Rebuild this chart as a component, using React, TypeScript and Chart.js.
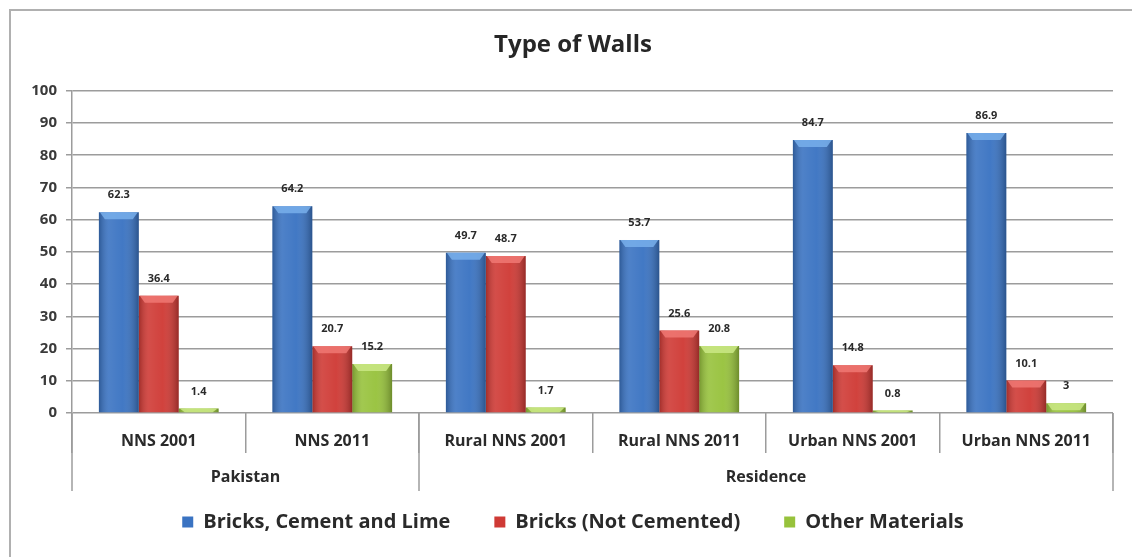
import React, { useEffect, useRef } from 'react';
import { Chart, registerables } from 'chart.js';

Chart.register(...registerables);

const categories = ['NNS 2001', 'NNS 2011', 'Rural NNS 2001', 'Rural NNS 2011', 'Urban NNS 2001', 'Urban NNS 2011'];
const groupLabels = ['Pakistan', 'Residence'];
const groupSpans = [2, 4];
const seriesNames = ['Bricks, Cement and Lime', 'Bricks (Not Cemented)', 'Other Materials'];
const bricksCementLime = [62.3, 64.2, 49.7, 53.7, 84.7, 86.9];
const bricksNotCemented = [36.4, 20.7, 48.7, 25.6, 14.8, 10.1];
const otherMaterials = [1.4, 15.2, 1.7, 20.8, 0.8, 3];
const chartTitle = 'Type of Walls';
const yMin = 0;
const yMax = 100;
const yStep = 10;

const barColors = ['#3a73c2', '#cf3a35', '#97c23c'];
const capColors = ['rgba(120,175,235,0.85)', 'rgba(240,120,115,0.85)', 'rgba(200,230,130,0.9)'];
const FONT = '"Open Sans", Lato, sans-serif';
const GRID = '#9c9c9c';
const TEXT = '#2a2a2a';

const framePlugin = {
  id: 'frame',
  beforeDraw(chart: any) {
    const ctx = chart.ctx;
    ctx.save();
    ctx.strokeStyle = '#b0b0b0';
    ctx.lineWidth = 2;
    ctx.beginPath();
    ctx.moveTo(10, chart.height);
    ctx.lineTo(10, 10);
    ctx.lineTo(chart.width, 10);
    ctx.stroke();
    ctx.restore();
  },
};

const barDecorPlugin = {
  id: 'barDecor',
  afterDatasetsDraw(chart: any) {
    const ctx = chart.ctx;
    chart.data.datasets.forEach((ds: any, di: number) => {
      const meta = chart.getDatasetMeta(di);
      meta.data.forEach((el: any, i: number) => {
        const { x, y, base, width } = el.getProps(['x', 'y', 'base', 'width'], true);
        const left = x - width / 2;
        const h = base - y;
        ctx.save();
        if (h > 0) {
          const g = ctx.createLinearGradient(left, 0, left + width, 0);
          g.addColorStop(0, 'rgba(0,0,0,0.22)');
          g.addColorStop(0.25, 'rgba(255,255,255,0.10)');
          g.addColorStop(0.6, 'rgba(255,255,255,0.04)');
          g.addColorStop(1, 'rgba(0,0,0,0.28)');
          ctx.fillStyle = g;
          ctx.fillRect(left, y, width, h);
          const capH = Math.min(7, h);
          ctx.fillStyle = capColors[di];
          ctx.beginPath();
          ctx.moveTo(left + 1, y);
          ctx.lineTo(left + width - 1, y);
          ctx.lineTo(left + width - 6, y + capH);
          ctx.lineTo(left + 6, y + capH);
          ctx.closePath();
          ctx.fill();
        }
        ctx.fillStyle = TEXT;
        ctx.font = 'bold 11px ' + FONT;
        ctx.textAlign = 'center';
        ctx.textBaseline = 'middle';
        ctx.fillText(String(ds.data[i]), x, y - 17);
        ctx.restore();
      });
    });
  },
};

const groupAxisPlugin = {
  id: 'groupAxis',
  afterDraw(chart: any) {
    const xs = chart.scales.x;
    const ctx = chart.ctx;
    const half = (xs.getPixelForValue(1) - xs.getPixelForValue(0)) / 2;
    const top = chart.chartArea.bottom;
    ctx.save();
    ctx.strokeStyle = GRID;
    ctx.lineWidth = 1.5;
    ctx.fillStyle = TEXT;
    ctx.font = 'bold 16px ' + FONT;
    ctx.textAlign = 'center';
    ctx.textBaseline = 'middle';
    let start = 0;
    const drawLine = (px: number) => {
      ctx.beginPath();
      ctx.moveTo(px, top);
      ctx.lineTo(px, top + 78);
      ctx.stroke();
    };
    drawLine(xs.getPixelForValue(0) - half);
    groupLabels.forEach((label, gi) => {
      const end = start + groupSpans[gi] - 1;
      const l = xs.getPixelForValue(start) - half;
      const r = xs.getPixelForValue(end) + half;
      drawLine(r);
      ctx.fillText(label, (l + r) / 2, top + 64);
      start = end + 1;
    });
    ctx.restore();
  },
};

export default function App() {
  const ref = useRef<HTMLCanvasElement>(null);
  useEffect(() => {
    if (!ref.current) return;
    const chart = new Chart(ref.current, {
      type: 'bar',
      data: {
        labels: categories,
        datasets: [
          { label: seriesNames[0], data: bricksCementLime, backgroundColor: barColors[0] },
          { label: seriesNames[1], data: bricksNotCemented, backgroundColor: barColors[1] },
          { label: seriesNames[2], data: otherMaterials, backgroundColor: barColors[2] },
        ],
      },
      options: {
        animation: false,
        responsive: true,
        maintainAspectRatio: false,
        datasets: { bar: { categoryPercentage: 0.69, barPercentage: 1.0 } },
        layout: { padding: { left: 14, right: 0, top: 0, bottom: 15 } },
        plugins: {
          title: {
            display: true,
            text: chartTitle,
            color: '#262626',
            font: { family: FONT, size: 24, weight: 'bold' },
            padding: { top: 31, bottom: 31 },
          },
          legend: {
            position: 'bottom',
            labels: {
              boxWidth: 11,
              boxHeight: 11,
              padding: 44,
              color: TEXT,
              font: { family: FONT, size: 20, weight: 'bold' },
            },
          },
          tooltip: { enabled: false },
        },
        scales: {
          x: {
            type: 'category',
            offset: true,
            grid: {
              display: true,
              offset: true,
              drawOnChartArea: false,
              drawTicks: true,
              tickLength: 40,
              color: GRID,
              lineWidth: 1.5,
            },
            border: { display: false },
            ticks: {
              color: TEXT,
              font: { family: FONT, size: 16, weight: 'bold' },
              padding: -21,
              maxRotation: 0,
              autoSkip: false,
            },
            afterFit: (s: any) => { s.height = 55; },
          },
          y: {
            min: yMin,
            max: yMax,
            position: 'left',
            ticks: {
              stepSize: yStep,
              color: '#3a3a3a',
              font: { family: FONT, size: 15, weight: 'bold' },
              padding: 9,
            },
            grid: { color: GRID, lineWidth: 1.5, tickLength: 6, drawTicks: true },
            border: { display: true, color: GRID, width: 1.5 },
            afterFit: (s: any) => { s.width = 58; },
          },
          yRight: {
            type: 'linear',
            position: 'right',
            display: true,
            grid: { display: false },
            border: { display: false },
            ticks: { display: false },
            afterFit: (s: any) => { s.width = 19; },
          },
        },
      },
      plugins: [framePlugin, barDecorPlugin, groupAxisPlugin],
    } as any);
    return () => chart.destroy();
  }, []);
  return (
    <div style={{ position: 'fixed', left: 0, top: 0, width: 1132, height: 557, background: '#fff' }}>
      <canvas ref={ref} />
    </div>
  );
}
